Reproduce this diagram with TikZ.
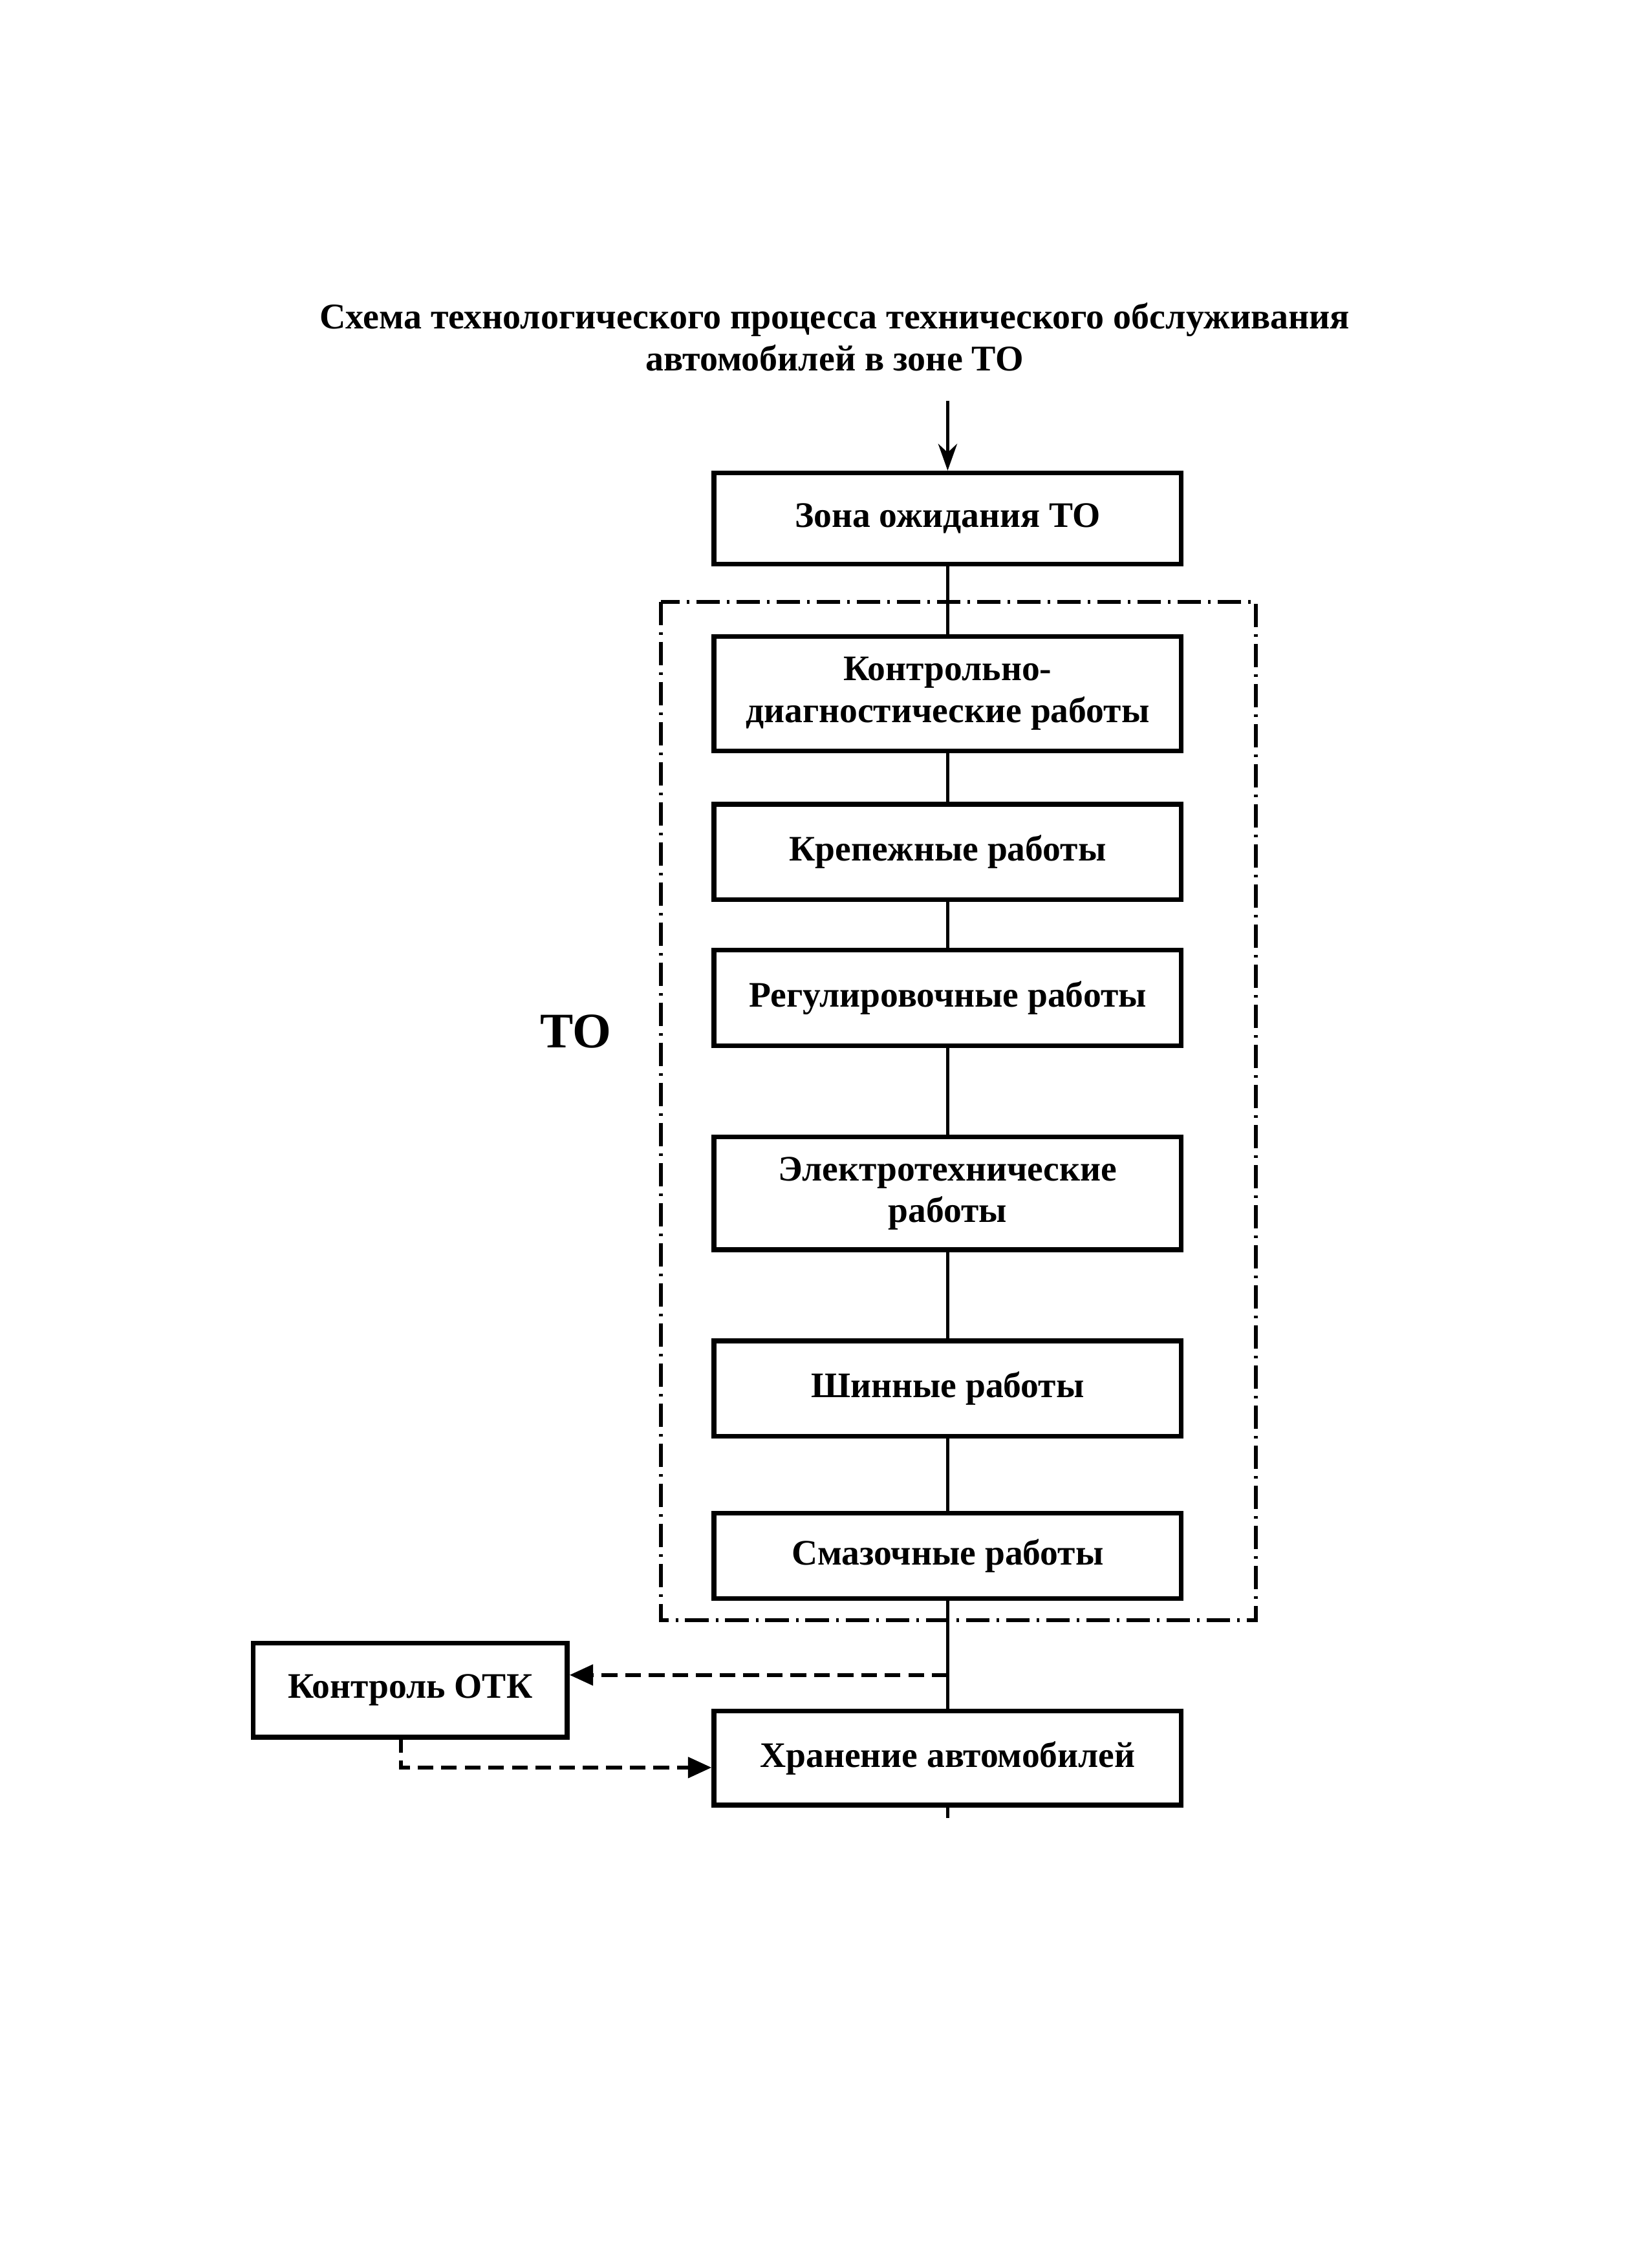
\documentclass[tikz,border=0pt]{standalone}
\usepackage{fontspec}
\setmainfont{Liberation Serif}
\usetikzlibrary{arrows.meta,calc}
\begin{document}
\begin{tikzpicture}[x=0.018405cm,y=-0.018405cm,
  box/.style={draw,line width=1.7pt,minimum width=5.945cm,align=center,
    font=\bfseries\fontsize{13}{15}\selectfont,inner sep=2pt},
  link/.style={line width=1.3pt},
  arr/.style={line width=1.3pt,-{Stealth[length=0.34cm,width=0.24cm]}},
  dlink/.style={line width=1.4pt,dash pattern=on 0.2cm off 0.1cm,
    -{Triangle[length=0.3cm,width=0.26cm]}},
  frame/.style={line width=1.4pt,dash pattern=on 0.3cm off 0.09cm on 0.03cm off 0.09cm}]
\useasboundingbox[fill=white] (0,0) rectangle (1141,1568);

\node[font=\bfseries\fontsize{13.1}{15.2}\selectfont,align=center] (title) at (577,233)
  {Схема технологического процесса технического обслуживания\\автомобилей в зоне ТО};

\coordinate (in) at (655,277);
\node[box,minimum height=1.16cm] (zona) at (655,358.5) {Зона ожидания ТО};
\node[box,minimum height=1.454cm] (kd) at (655,479.5) {Контрольно-\\диагностические работы};
\node[box,minimum height=1.215cm] (kr) at (655,589) {Крепежные работы};
\node[box,minimum height=1.215cm] (rg) at (655,690) {Регулировочные работы};
\node[box,minimum height=1.436cm] (el) at (655,825) {Электротехнические\\работы};
\node[box,minimum height=1.215cm] (sh) at (655,960) {Шинные работы};
\node[box,minimum height=1.086cm] (sm) at (655,1075.5) {Смазочные работы};
\node[box,minimum height=1.196cm] (hr) at (655,1215.5) {Хранение автомобилей};
\node[box,minimum width=3.994cm,minimum height=1.196cm] (otk) at (283.5,1168.5) {Контроль ОТК};

\node[font=\bfseries\fontsize{18}{20}\selectfont] (to) at (398,713) {ТО};

\coordinate (fr1) at (457,416);
\coordinate (fr2) at (868,1120);
\draw[frame] (fr1) rectangle (fr2);

\coordinate (br) at (655,1158);
\coordinate (out) at (655,1257);

\draw[arr] (in) -- (zona.north);
\draw[link] (zona.south) -- (kd.north);
\draw[link] (kd.south) -- (kr.north);
\draw[link] (kr.south) -- (rg.north);
\draw[link] (rg.south) -- (el.north);
\draw[link] (el.south) -- (sh.north);
\draw[link] (sh.south) -- (sm.north);
\draw[link] (sm.south) -- (hr.north);
\draw[link] (hr.south) -- (out);

\draw[dlink] (br) -- (br -| otk.east);
\coordinate (otkb) at (277,1201);
\coordinate (hrl) at (495,1222);
\draw[dlink] (otkb) |- (hrl -| hr.west);
\end{tikzpicture}
\end{document}
